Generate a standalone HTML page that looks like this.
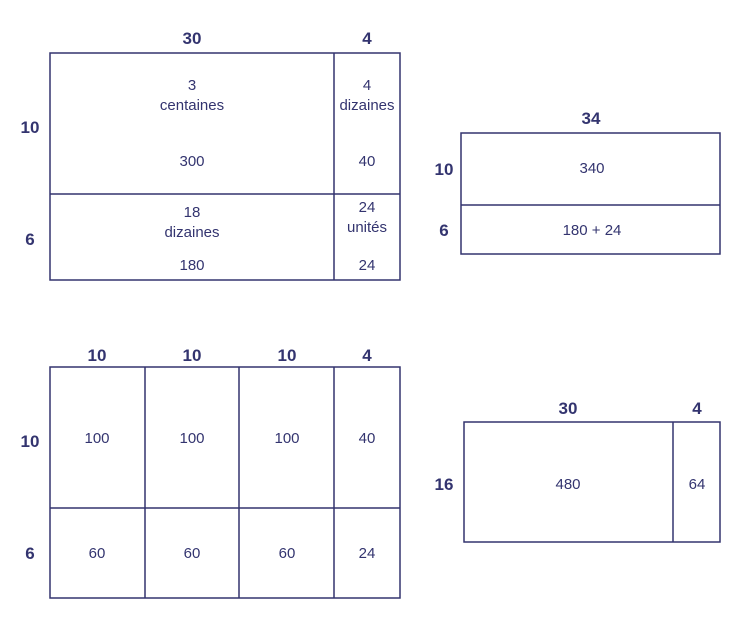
<!DOCTYPE html>
<html><head><meta charset="utf-8"><style>
html,body{margin:0;padding:0;background:#fff;}
svg{display:block;}
text{font-family:"Liberation Sans",sans-serif;fill:#33346f;}
.b{font-weight:bold;font-size:17px;}
.r{font-size:15px;}
rect,line{stroke:#33346f;stroke-width:1.5;fill:none;}
</style></head><body>
<svg width="753" height="626" viewBox="0 0 753 626">
<!-- Diagram 1 -->
<text class="b" x="192" y="44" text-anchor="middle">30</text>
<text class="b" x="367" y="44" text-anchor="middle">4</text>
<text class="b" x="30" y="133" text-anchor="middle">10</text>
<text class="b" x="30" y="245" text-anchor="middle">6</text>
<rect x="50" y="53" width="350" height="227"/>
<line x1="334" y1="53" x2="334" y2="280"/>
<line x1="50" y1="194" x2="400" y2="194"/>
<text class="r" x="192" y="90" text-anchor="middle">3</text>
<text class="r" x="192" y="110" text-anchor="middle">centaines</text>
<text class="r" x="192" y="166" text-anchor="middle">300</text>
<text class="r" x="367" y="90" text-anchor="middle">4</text>
<text class="r" x="367" y="110" text-anchor="middle">dizaines</text>
<text class="r" x="367" y="166" text-anchor="middle">40</text>
<text class="r" x="192" y="217" text-anchor="middle">18</text>
<text class="r" x="192" y="237" text-anchor="middle">dizaines</text>
<text class="r" x="192" y="270" text-anchor="middle">180</text>
<text class="r" x="367" y="212" text-anchor="middle">24</text>
<text class="r" x="367" y="232" text-anchor="middle">unités</text>
<text class="r" x="367" y="270" text-anchor="middle">24</text>
<!-- Diagram 2 -->
<text class="b" x="591" y="124" text-anchor="middle">34</text>
<text class="b" x="444" y="175" text-anchor="middle">10</text>
<text class="b" x="444" y="236" text-anchor="middle">6</text>
<rect x="461" y="133" width="259" height="121"/>
<line x1="461" y1="205" x2="720" y2="205"/>
<text class="r" x="592" y="173" text-anchor="middle">340</text>
<text class="r" x="592" y="235" text-anchor="middle">180 + 24</text>
<!-- Diagram 3 -->
<text class="b" x="97" y="361" text-anchor="middle">10</text>
<text class="b" x="192" y="361" text-anchor="middle">10</text>
<text class="b" x="287" y="361" text-anchor="middle">10</text>
<text class="b" x="367" y="361" text-anchor="middle">4</text>
<text class="b" x="30" y="447" text-anchor="middle">10</text>
<text class="b" x="30" y="559" text-anchor="middle">6</text>
<rect x="50" y="367" width="350" height="231"/>
<line x1="145" y1="367" x2="145" y2="598"/>
<line x1="239" y1="367" x2="239" y2="598"/>
<line x1="334" y1="367" x2="334" y2="598"/>
<line x1="50" y1="508" x2="400" y2="508"/>
<text class="r" x="97" y="443" text-anchor="middle">100</text>
<text class="r" x="192" y="443" text-anchor="middle">100</text>
<text class="r" x="287" y="443" text-anchor="middle">100</text>
<text class="r" x="367" y="443" text-anchor="middle">40</text>
<text class="r" x="97" y="558" text-anchor="middle">60</text>
<text class="r" x="192" y="558" text-anchor="middle">60</text>
<text class="r" x="287" y="558" text-anchor="middle">60</text>
<text class="r" x="367" y="558" text-anchor="middle">24</text>
<!-- Diagram 4 -->
<text class="b" x="568" y="414" text-anchor="middle">30</text>
<text class="b" x="697" y="414" text-anchor="middle">4</text>
<text class="b" x="444" y="490" text-anchor="middle">16</text>
<rect x="464" y="422" width="256" height="120"/>
<line x1="673" y1="422" x2="673" y2="542"/>
<text class="r" x="568" y="489" text-anchor="middle">480</text>
<text class="r" x="697" y="489" text-anchor="middle">64</text>
</svg>
</body></html>
